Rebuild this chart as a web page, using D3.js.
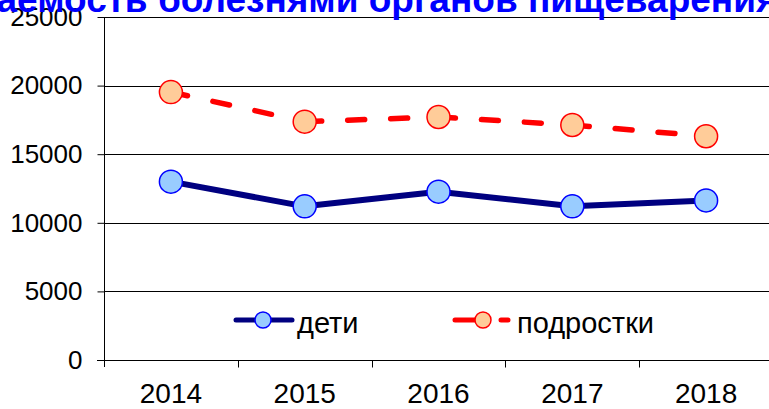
<!DOCTYPE html>
<html>
<head>
<meta charset="utf-8">
<script src="https://cdn.jsdelivr.net/npm/d3@7"></script>
<style>
  body { margin: 0; background: #fff; }
  text { font-family: "Liberation Sans", Arial, sans-serif; }
</style>
</head>
<body>
<div id="chart"></div>
<script>
// ---- data ----
var years = ["2014", "2015", "2016", "2017", "2018"];
var children = [13000, 11200, 12270, 11200, 11630];
var teens = [19530, 17370, 17710, 17130, 16310];
var yTicks = [0, 5000, 10000, 15000, 20000, 25000];
var titleFull = "Заболеваемость болезнями органов пищеварения";
var titleHidden = "Заболев";

var svgWidth = 769;
var svgHeight = 409;

var svg = d3.select("#chart").append("svg")
  .attr("width", svgWidth)
  .attr("height", svgHeight);

var plotLeft = 104, plotRight = 773, plotTop = 17, plotBottom = 360;

var x = d3.scaleBand().domain(years).range([plotLeft, plotRight]);
var y = d3.scaleLinear().domain([0, 25000]).range([plotBottom, plotTop]);
var cx = d => x(d) + x.bandwidth() / 2;

// gridlines
svg.append("g").selectAll("line")
  .data(yTicks.filter(d => d > 0))
  .enter().append("line")
  .attr("x1", plotLeft).attr("x2", svgWidth)
  .attr("y1", d => Math.round(y(d)) + 0.5)
  .attr("y2", d => Math.round(y(d)) + 0.5)
  .attr("stroke", "#000")
  .attr("stroke-width", 1);

// y axis
var yAxis = svg.append("g")
  .attr("transform", `translate(${plotLeft + 0.5},0)`)
  .call(d3.axisLeft(y).tickValues(yTicks).tickSize(7).tickPadding(15).tickFormat(d3.format("d")));
yAxis.select(".domain").remove();
yAxis.append("line").attr("x1", 0).attr("x2", 0).attr("y1", plotTop).attr("y2", plotBottom + 7).attr("stroke", "#000");
yAxis.selectAll("line").attr("stroke", "#000");
yAxis.selectAll("text")
  .attr("font-family", "Liberation Sans, Arial, sans-serif")
  .attr("font-size", 26)
  .attr("fill", "#000");

// x axis
var xAxis = svg.append("g")
  .attr("transform", `translate(0,${plotBottom + 0.5})`)
  .call(d3.axisBottom(x).tickSize(0).tickPadding(23));
xAxis.select(".domain").remove();
xAxis.append("line").attr("x1", plotLeft - 7).attr("x2", svgWidth).attr("y1", 0).attr("y2", 0).attr("stroke", "#000");
xAxis.selectAll(".bound")
  .data(years.slice(1))
  .enter().append("line")
  .attr("x1", d => Math.round(x(d)) + 0.5).attr("x2", d => Math.round(x(d)) + 0.5)
  .attr("y1", 0).attr("y2", 7)
  .attr("stroke", "#000");
xAxis.selectAll("text")
  .attr("font-family", "Liberation Sans, Arial, sans-serif")
  .attr("font-size", 28)
  .attr("fill", "#000");

// teens: dashed red, pattern restarts each segment
var teenPts = years.map((d, i) => [cx(d), y(teens[i])]);
var segs = d3.pairs(teenPts);
svg.append("g").selectAll("path")
  .data(segs)
  .enter().append("path")
  .attr("d", d => d3.line()(d))
  .attr("fill", "none")
  .attr("stroke", "#ff0000")
  .attr("stroke-width", 5.5)
  .attr("stroke-linecap", "round")
  .attr("stroke-dasharray", "17 26");

// children: solid navy
svg.append("path")
  .datum(children)
  .attr("d", d3.line().x((d, i) => cx(years[i])).y(d => y(d)))
  .attr("fill", "none")
  .attr("stroke", "#000080")
  .attr("stroke-width", 6)
  .attr("stroke-linejoin", "round");

svg.append("g").selectAll("circle")
  .data(teens)
  .enter().append("circle")
  .attr("cx", (d, i) => cx(years[i]))
  .attr("cy", d => y(d))
  .attr("r", 11.5)
  .attr("fill", "#ffcc99")
  .attr("stroke", "#ff0000")
  .attr("stroke-width", 1.5);

svg.append("g").selectAll("circle")
  .data(children)
  .enter().append("circle")
  .attr("cx", (d, i) => cx(years[i]))
  .attr("cy", d => y(d))
  .attr("r", 11.5)
  .attr("fill", "#99ccff")
  .attr("stroke", "#0000ff")
  .attr("stroke-width", 1.5);

// legend
var legend = svg.append("g");
legend.append("line").attr("x1", 236).attr("x2", 292).attr("y1", 320).attr("y2", 320)
  .attr("stroke", "#000080").attr("stroke-width", 5).attr("stroke-linecap", "round");
legend.append("circle").attr("cx", 263).attr("cy", 320).attr("r", 8)
  .attr("fill", "#99ccff").attr("stroke", "#0000ff").attr("stroke-width", 1.5);
legend.append("text").attr("x", 297).attr("y", 333).attr("font-size", 29).text("дети");

legend.append("line").attr("x1", 455).attr("x2", 508).attr("y1", 320).attr("y2", 320)
  .attr("stroke", "#ff0000").attr("stroke-width", 5).attr("stroke-linecap", "round")
  .attr("stroke-dasharray", "20 26");
legend.append("circle").attr("cx", 483).attr("cy", 320).attr("r", 8)
  .attr("fill", "#ffcc99").attr("stroke", "#ff0000").attr("stroke-width", 1.5);
legend.append("text").attr("x", 517).attr("y", 333).attr("font-size", 29).text("подростки");

// title (cut off at the top and sides, like the source)
var titleSize = 37;
var title = svg.append("text")
  .attr("y", 12)
  .attr("font-size", titleSize)
  .attr("font-weight", "bold")
  .attr("fill", "#0000ff")
  .text(titleFull);
var probe = svg.append("text").attr("font-size", titleSize).attr("font-weight", "bold").text(titleHidden);
var hiddenW = probe.node().getComputedTextLength();
probe.remove();
title.attr("x", -3 - hiddenW);
</script>
</body>
</html>
